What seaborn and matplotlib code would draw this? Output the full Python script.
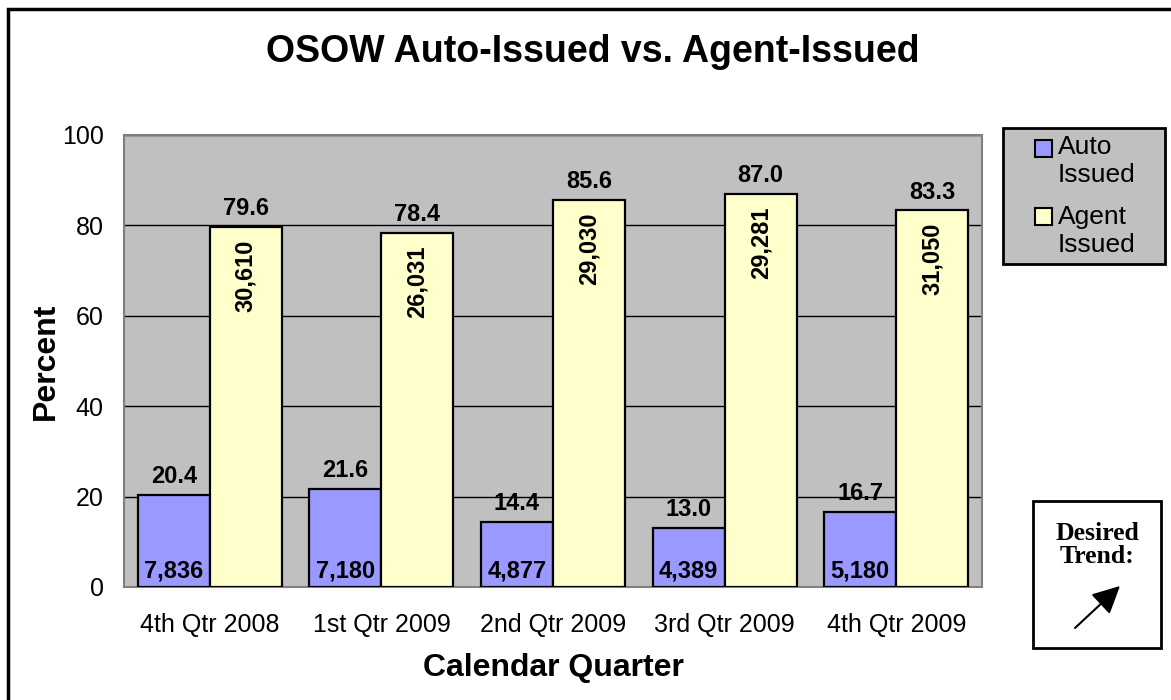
import matplotlib
matplotlib.use("Agg")
import matplotlib.pyplot as plt
from matplotlib.patches import Rectangle, FancyArrowPatch
import pandas as pd
import seaborn as sns

quarters = ["4th Qtr 2008", "1st Qtr 2009", "2nd Qtr 2009", "3rd Qtr 2009", "4th Qtr 2009"]
series_names = ["Auto Issued", "Agent Issued"]
legend_labels = ["Auto\nIssued", "Agent\nIssued"]
auto_pct = [20.4, 21.6, 14.4, 13.0, 16.7]
agent_pct = [79.6, 78.4, 85.6, 87.0, 83.3]
auto_count = ["7,836", "7,180", "4,877", "4,389", "5,180"]
agent_count = ["30,610", "26,031", "29,030", "29,281", "31,050"]
bar_colors = ["#9999FF", "#FFFFCC"]

df = pd.DataFrame({
    "quarter": quarters * 2,
    "percent": auto_pct + agent_pct,
    "series": [series_names[0]] * len(quarters) + [series_names[1]] * len(quarters),
})

sns.set_style("white")
plt.rcParams["font.family"] = ["Liberation Sans", "DejaVu Sans"]
plt.rcParams.update({"text.color": "black", "axes.labelcolor": "black",
                     "xtick.color": "black", "ytick.color": "black"})

W, H = 1171, 700
fig = plt.figure(figsize=(W / 100, H / 100), dpi=100)
ax = fig.add_axes([124 / W, 1 - 587 / H, 858 / W, 452 / H])
ax.set_facecolor("#C0C0C0")

sns.barplot(data=df, x="quarter", y="percent", hue="series", order=quarters,
            hue_order=series_names, palette=bar_colors, saturation=1,
            width=0.84, edgecolor="black", linewidth=1.6, ax=ax, legend=False,
            zorder=3)

ax.set_ylim(0, 100)
ax.set_yticks([0, 20, 40, 60, 80, 100])
ax.set_yticklabels(["0", "20", "40", "60", "80", "100"])
ax.yaxis.grid(True, color="black", linewidth=1.0, zorder=0)
ax.set_axisbelow(True)
ax.tick_params(axis="both", length=0, labelsize=18)
ax.tick_params(axis="y", pad=14.5)
ax.tick_params(axis="x", pad=19)
for sp in ax.spines.values():
    sp.set_color("#808080")
    sp.set_linewidth(1.5)

ax.set_xlabel("Calendar Quarter", fontsize=23, fontweight="bold", labelpad=11)
ax.set_ylabel("Percent", fontsize=23, fontweight="bold", labelpad=1)

# value labels
auto_bars, agent_bars = ax.containers[0], ax.containers[1]
for bars, pcts in ((auto_bars, auto_pct), (agent_bars, agent_pct)):
    for rect, v in zip(bars, pcts):
        cx = rect.get_x() + rect.get_width() / 2
        ax.annotate(f"{v:.1f}", (cx, v), xytext=(0, 5), textcoords="offset points",
                    ha="center", va="bottom", fontsize=17, fontweight="bold")
for rect, c in zip(auto_bars, auto_count):
    cx = rect.get_x() + rect.get_width() / 2
    ax.annotate(c, (cx, 0), xytext=(0, 3), textcoords="offset points",
                ha="center", va="bottom", fontsize=17, fontweight="bold", zorder=5)
for rect, c, v in zip(agent_bars, agent_count, agent_pct):
    cx = rect.get_x() + rect.get_width() / 2
    ax.annotate(c, (cx, v), xytext=(0, -9), textcoords="offset points",
                ha="center", va="top", rotation=90, fontsize=17,
                fontweight="bold", zorder=5)

# legend box
fig.add_artist(Rectangle((1003 / W, 1 - 264 / H), 162 / W, 136 / H,
                         transform=fig.transFigure, facecolor="#C0C0C0",
                         edgecolor="black", linewidth=2, zorder=2))
for i, (lab, col) in enumerate(zip(legend_labels, bar_colors)):
    sq_top = 140 + 68 * i
    fig.add_artist(Rectangle((1035 / W, 1 - (sq_top + 17) / H), 17 / W, 17 / H,
                             transform=fig.transFigure, facecolor=col,
                             edgecolor="black", linewidth=1.5, zorder=3))
    fig.text(1058 / W, 1 - (135 + 70 * i) / H, lab, ha="left", va="top",
             fontsize=19, linespacing=1.2, zorder=3)

fig.text(593 / W, 1 - 52 / H, "OSOW Auto-Issued vs. Agent-Issued",
         ha="center", va="center", fontsize=27, fontweight="bold")

# desired trend box
fig.add_artist(Rectangle((1033 / W, 1 - 648 / H), 128 / W, 147 / H,
                         transform=fig.transFigure, facecolor="white",
                         edgecolor="black", linewidth=2, zorder=2))
fig.text(1097 / W, 1 - 545 / H, "Desired\nTrend:", ha="center", va="center",
         fontsize=18.5, fontweight="bold", family=["Liberation Serif"],
         linespacing=1.05, zorder=3)
fig.add_artist(FancyArrowPatch((1075 / W, 1 - 628 / H), (1120 / W, 1 - 586 / H),
                               transform=fig.transFigure, arrowstyle="-|>",
                               color="black", lw=1.5, mutation_scale=42,
                               shrinkA=0, shrinkB=0, zorder=4))

# outer frame (runs off the right and bottom edges)
fig.add_artist(Rectangle((8 / W, -0.1), 1.2, 1.1 - 9 / H,
                         transform=fig.transFigure, fill=False,
                         edgecolor="black", linewidth=2.5, clip_on=False,
                         zorder=5))

fig.savefig("out.png", dpi=100)
